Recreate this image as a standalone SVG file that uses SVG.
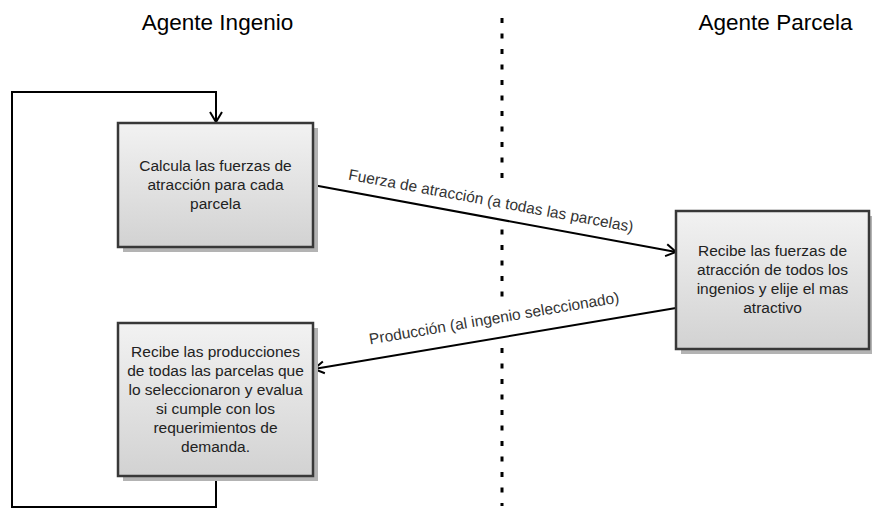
<svg xmlns="http://www.w3.org/2000/svg" width="872" height="509" viewBox="0 0 872 509">
<style>
.title{font-family:"Liberation Sans",Arial,sans-serif;font-size:22.5px;fill:#000;text-anchor:middle}
.bt{font-family:"Liberation Sans",Arial,sans-serif;font-size:15.5px;fill:#222;text-anchor:middle}
.lbl{font-family:"Liberation Sans",Arial,sans-serif;font-size:15.5px;fill:#333;text-anchor:middle}
.box{fill:url(#g);stroke:#383838;stroke-width:2.5}
.sh{fill:#b3b3b3}
.con{fill:none;stroke:#000;stroke-width:2}
.dot{stroke:#000;stroke-width:3;stroke-dasharray:5 10.5}
</style>
<defs>
<linearGradient id="g" x1="0" y1="0" x2="0" y2="1">
<stop offset="0" stop-color="#f2f2f2"/>
<stop offset="1" stop-color="#d2d2d2"/>
</linearGradient>
<marker id="ah" markerUnits="userSpaceOnUse" markerWidth="16" markerHeight="16" viewBox="-12 -8 14 16" refX="0" refY="0" orient="auto">
<path d="M-10,-6 L0,0 L-10,6" fill="none" stroke="#000" stroke-width="2"/>
</marker>
</defs>
<rect width="872" height="509" fill="#fff"/>
<text class="title" x="217.5" y="30">Agente Ingenio</text>
<text class="title" x="775.5" y="30">Agente Parcela</text>
<g id="divider">
<line class="dot" x1="502" y1="18" x2="502" y2="180"/>
<line class="dot" x1="502" y1="229.5" x2="502" y2="298"/>
<line class="dot" x1="502" y1="348" x2="502" y2="506"/>
</g>
<g id="connectors">
<path class="con" d="M216,476 V507 H12 V92 H216 V122" marker-end="url(#ah)"/>
<path class="con" d="M313,185 L676,252" marker-end="url(#ah)"/>
<path class="con" d="M676,308 L314,369" marker-end="url(#ah)"/>
<text class="lbl" transform="translate(490,205.8) rotate(10.49)">Fuerza de atracción (a todas las parcelas)</text>
<text class="lbl" transform="translate(495,323.5) rotate(-9.57)">Producción (al ingenio seleccionado)</text>
</g>
<g id="n1">
<rect class="sh" x="123" y="128" width="195" height="124"/>
<rect class="box" x="118" y="123" width="195" height="124"/>
<text class="bt"><tspan x="215.5" y="170.7">Calcula las fuerzas de</tspan><tspan x="215.5" y="190">atracción para cada</tspan><tspan x="215.5" y="209.3">parcela</tspan></text>
</g>
<g id="n2">
<rect class="sh" x="681" y="216" width="193" height="138"/>
<rect class="box" x="676" y="211" width="193" height="138"/>
<text class="bt"><tspan x="772.5" y="255.7">Recibe las fuerzas de</tspan><tspan x="772.5" y="275">atracción de todos los</tspan><tspan x="772.5" y="294.3">ingenios y elije el mas</tspan><tspan x="772.5" y="313.3">atractivo</tspan></text>
</g>
<g id="n3">
<rect class="sh" x="123" y="328" width="195" height="153"/>
<rect class="box" x="118" y="323" width="195" height="153"/>
<text class="bt"><tspan x="215.5" y="356.7">Recibe las producciones</tspan><tspan x="215.5" y="376">de todas las parcelas que</tspan><tspan x="215.5" y="395.3">lo seleccionaron y evalua</tspan><tspan x="215.5" y="414.3">si cumple con los</tspan><tspan x="215.5" y="433.3">requerimientos de</tspan><tspan x="215.5" y="452.3">demanda.</tspan></text>
</g>
</svg>
